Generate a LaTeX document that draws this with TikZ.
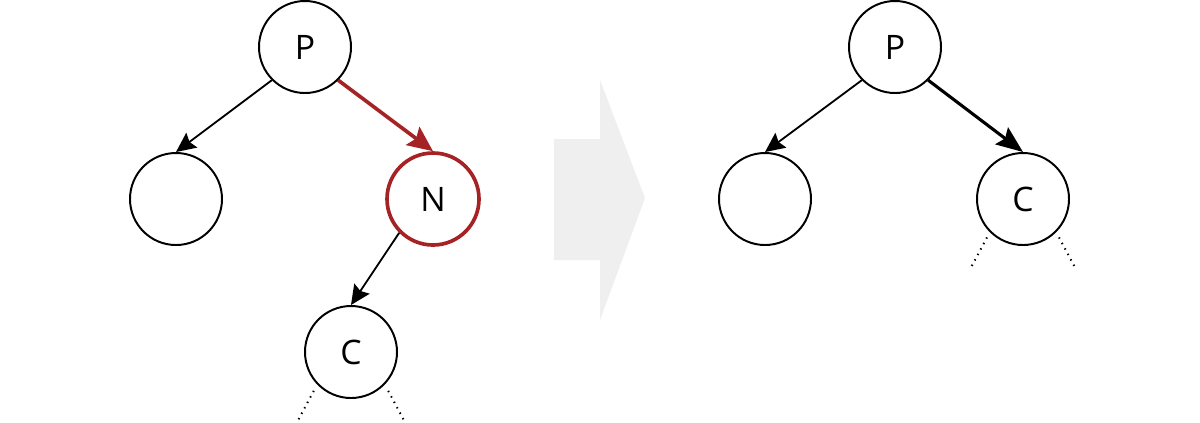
\documentclass[tikz,border=0pt]{standalone}
\usepackage{fontspec}
\setmainfont{Open Sans}
\usetikzlibrary{arrows.meta, positioning}
\definecolor{hotred}{HTML}{A62325}
\definecolor{arrowgrey}{HTML}{EFEFEF}

\begin{document}
\begin{tikzpicture}[
            node distance=3.8cm and 3.2cm,
            on grid,
            font=\fontsize{24}{28}\selectfont,
            % Styles
            vertex/.style={circle, draw, line width=1.4pt, minimum size=2.3cm, inner sep=0pt},
            current/.style={vertex, draw=hotred, line width=2.6pt},
            edge/.style={-{Stealth[length=14pt, width=13pt, inset=2pt]}, line width=1.3pt},
            hotedge/.style={-{Stealth[length=18pt, width=16pt, inset=3pt]}, hotred, line width=2.6pt},
            newedge/.style={-{Stealth[length=19pt, width=15pt, inset=3pt]}, line width=2.2pt},
            stub/.style={line width=1.4pt, dash pattern=on 1pt off 3.4pt}
        ]

        \useasboundingbox (0,0) rectangle (30,-10.55);

        % --- BEFORE: N sits between P and C ---
        \node (p) [vertex] at (7.625,-1.175) {P};
        \node (sib) [vertex, below left=3.8cm and 3.225cm of p] {};
        \node (n) [current, below right=3.8cm and 3.2cm of p] {N};
        \node (c) [vertex, below left=3.825cm and 2.05cm of n] {C};

        \draw [edge] (p.-135) -- (sib.north);
        \draw [hotedge] (p.-45) -- (n.north);
        \draw [edge] (n.-135) -- (c.north);

        \draw [stub] ([shift={(-0.93,-0.97)}]c.center) -- ([shift={(-1.32,-1.7)}]c.center);
        \draw [stub] ([shift={(0.93,-0.97)}]c.center) -- ([shift={(1.32,-1.7)}]c.center);

        % --- big grey arrow ---
        \fill [arrowgrey] (13.85,-3.475) -- (15,-3.475) -- (15,-2) -- (16.125,-4.95)
            -- (15,-8) -- (15,-6.5) -- (13.85,-6.5) -- cycle;

        % --- AFTER: C hangs from P ---
        \node (p2) [vertex] at (22.375,-1.175) {P};
        \node (sib2) [vertex, below left=3.8cm and 3.25cm of p2] {};
        \node (c2) [vertex, below right=3.8cm and 3.2cm of p2] {C};

        \draw [edge] (p2.-135) -- (sib2.north);
        \draw [newedge] (p2.-45) -- (c2.north);

        \draw [stub] ([shift={(-0.9,-0.96)}]c2.center) -- ([shift={(-1.3,-1.71)}]c2.center);
        \draw [stub] ([shift={(0.9,-0.96)}]c2.center) -- ([shift={(1.3,-1.71)}]c2.center);

\end{tikzpicture}
\end{document}
